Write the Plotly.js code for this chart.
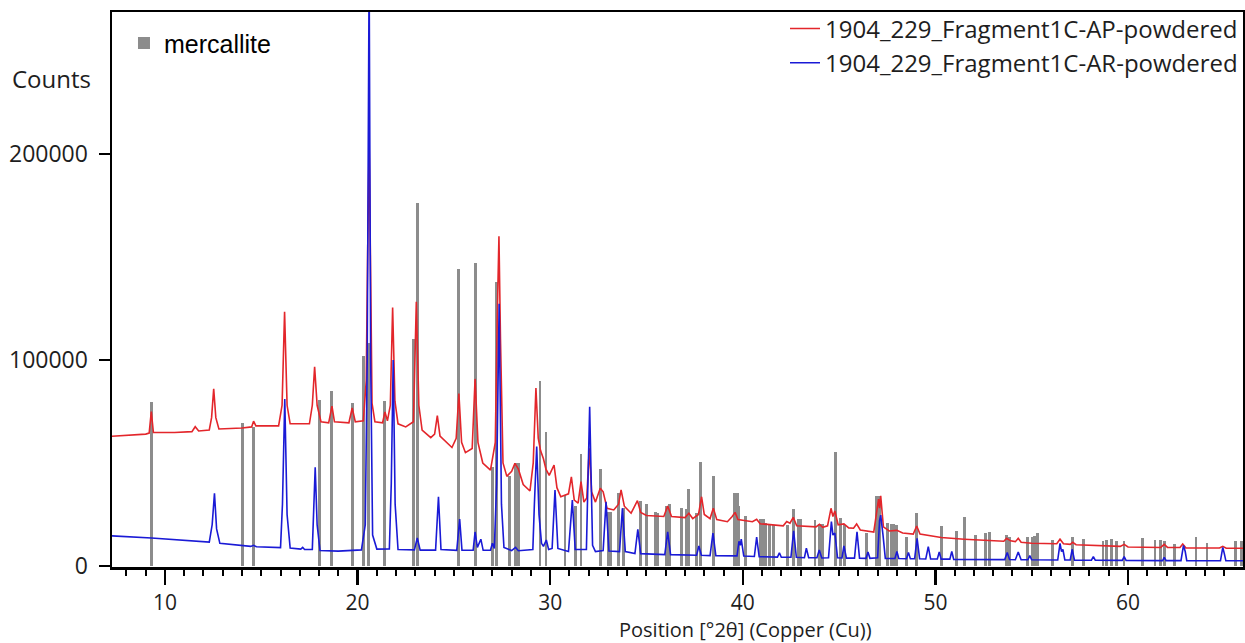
<!DOCTYPE html>
<html>
<head>
<meta charset="utf-8">
<script src="https://cdn.plot.ly/plotly-3.0.1.min.js"></script>
<style>html,body{margin:0;padding:0;background:#fff;}#chart{width:1245px;height:643px;}</style>
</head>
<body>
<div id="chart"></div>
<script>
// ---- Series 1: 1904_229_Fragment1C-AP-powdered (red) ----
const apTheta = [7.25,8.0,9.0,9.18,9.29,9.4,10.5,11.4,11.57,11.75,12.3,12.42,12.53,12.64,12.8,14.0,14.5,14.6,14.72,15.9,16.08,16.21,16.34,16.5,17.5,17.65,17.77,17.9,18.0,18.1,18.5,18.67,18.8,19.55,19.72,19.88,20.3,20.45,20.52,20.6,20.68,20.75,20.9,21.3,21.42,21.55,21.7,21.82,21.94,22.1,22.5,22.9,23.05,23.18,23.35,23.8,24.0,24.14,24.28,24.9,25.12,25.26,25.4,25.6,25.95,26.1,26.25,26.5,26.9,27.15,27.25,27.34,27.42,27.55,27.75,28.0,28.17,28.35,28.6,28.95,29.12,29.26,29.38,29.5,29.65,29.78,29.95,30.2,30.35,30.55,30.95,31.1,31.25,31.45,31.6,31.75,31.9,32.03,32.15,32.35,32.6,32.75,32.95,33.3,33.55,33.68,33.85,34.2,34.53,34.7,35.0,35.9,36.1,36.3,37.0,37.2,37.4,37.7,37.86,38.0,38.3,38.47,38.65,39.2,39.45,39.6,39.75,40.5,40.72,40.9,42.1,42.28,42.45,42.62,42.8,43.8,43.98,44.15,44.4,44.58,44.68,44.78,44.95,45.25,45.5,45.75,45.91,46.1,46.8,47.05,47.1,47.16,47.3,47.6,48.0,48.3,48.85,49.03,49.2,50.3,51.5,53.55,53.7,53.9,54.15,54.3,54.45,55.0,56.3,56.47,56.65,57.0,57.13,57.3,59.6,59.8,60.0,61.7,61.88,62.05,62.7,62.84,63.0,64.75,64.92,65.1,65.97];
const apCounts = [63000,63500,64000,64500,75000,64800,64800,65200,67600,65500,66000,72000,86000,72000,66500,67000,67500,70300,68000,68000,78000,123400,78000,69000,69000,78000,96700,78000,74000,70000,69500,77600,70000,69500,76700,70000,70500,90000,150000,205800,140000,79000,70000,69500,74800,70500,78000,125500,80000,69000,67500,70000,128200,78000,66000,62300,64000,73000,63000,57500,62000,83700,60000,55000,57000,90800,60000,50000,46500,60000,120000,160000,110000,50000,43500,46000,49800,47000,39500,36400,50000,86400,62000,56000,52000,47000,44000,49000,38000,33600,35000,43300,32000,30500,40900,31000,33000,57100,36000,31000,37700,36000,28000,27200,30000,36900,29000,25600,31700,26000,24500,24000,29100,24000,23500,25600,23000,25000,33600,25000,23000,28000,22500,21500,24000,26000,22500,21500,22700,20500,19500,21600,20800,23600,19500,19000,20200,18800,19500,28000,24000,26700,20000,20400,18500,18300,20400,17500,16500,32500,28000,34000,19000,17000,17300,16000,15500,19400,15500,13800,13000,12000,13400,12200,11800,13400,11500,11000,10800,13000,10800,10500,11500,10300,9500,10500,9200,9000,10500,9000,9000,10700,8800,8700,9500,8600,8600];

// ---- Series 2: 1904_229_Fragment1C-AR-powdered (blue) ----
const arTheta = [7.25,9.3,12.3,12.45,12.57,12.68,12.85,14.45,14.6,14.75,16.0,16.1,16.22,16.34,16.5,17.05,17.15,17.25,17.65,17.72,17.8,17.9,18.05,19.0,20.2,20.4,20.5,20.6,20.68,20.78,21.0,21.65,21.75,21.85,21.95,22.1,22.95,23.1,23.25,24.05,24.2,24.33,25.15,25.3,25.42,26.0,26.1,26.22,26.4,26.52,26.9,27.0,27.1,27.22,27.35,27.47,27.6,28.0,28.2,28.35,29.1,29.18,29.3,29.42,29.55,29.65,29.8,29.92,30.1,30.25,30.4,30.95,31.15,31.3,31.88,32.05,32.2,32.35,32.75,32.9,33.05,33.6,33.75,33.9,34.4,34.55,34.7,35.95,36.1,36.25,37.6,37.72,37.85,38.3,38.45,38.6,39.7,39.8,39.87,39.92,40.05,40.6,40.72,40.85,41.8,41.9,42.0,42.5,42.64,42.78,43.2,43.3,43.42,43.85,43.97,44.1,44.45,44.6,44.68,44.78,44.92,45.15,45.25,45.38,45.8,45.93,46.06,46.4,46.5,46.6,47.0,47.1,47.16,47.28,47.4,47.9,48.0,48.1,48.5,48.6,48.7,48.92,49.05,49.18,49.5,49.63,49.75,50.1,50.2,50.3,50.75,50.85,50.95,53.6,53.73,53.85,54.15,54.3,54.45,54.8,54.9,55.0,56.35,56.47,56.55,56.62,56.72,57.0,57.1,57.22,58.1,58.2,58.3,59.7,59.8,59.9,61.8,61.88,61.98,62.75,62.88,62.97,63.05,64.8,64.92,65.0,65.08,65.97];
const arCounts = [14600,13600,11600,20000,35300,18000,11000,9500,10000,9300,8900,30000,81000,25000,8700,8200,9000,8000,8000,25000,47900,20000,7500,7200,7800,20000,100000,290000,100000,15000,8200,8300,40000,100000,30000,8000,7800,13600,7700,7700,33600,8000,7600,22800,7700,7600,16500,9000,13000,7600,7600,11000,8500,40000,127300,30000,9000,7500,9000,7400,8000,30000,58000,25000,11000,9500,12600,8000,8500,36900,8500,7000,32000,8000,8000,77300,10000,7000,7500,31200,7300,7000,28000,7000,6000,17800,6000,5500,16600,5500,5200,9700,5200,5000,15900,5000,4900,12000,10000,13000,4800,4600,14000,4500,4300,6400,4200,4200,17100,4200,4000,8600,4000,4000,7800,3900,4000,21500,15000,16000,4000,3900,9700,3800,3800,16600,3800,3700,6800,3700,4000,22000,24700,15000,3700,3600,7000,3600,3500,6500,3500,3500,13400,3500,3400,9400,3400,3400,6800,3300,3300,7000,3200,3100,6500,3100,3000,6800,3000,3000,5000,3000,2900,11000,7000,8000,2900,2900,8100,2800,2800,4500,2800,2700,4500,2700,2600,4200,2600,2600,10000,7000,2600,2500,9000,6000,2500,2500];

// ---- Reference pattern: mercallite (grey sticks) ----
const mercTheta = [9.29,14.03,14.6,18.01,18.64,19.72,20.3,20.55,21.42,22.89,23.1,25.26,26.1,27.0,27.22,27.9,28.2,28.35,29.47,29.78,30.77,31.3,31.6,32.59,33.0,33.15,33.53,33.8,34.67,35.0,35.45,35.55,36.05,36.2,36.8,37.1,37.2,37.6,37.81,38.47,39.55,39.72,39.8,40.15,40.9,41.06,41.2,41.4,41.6,42.3,42.62,42.9,43.0,43.75,43.98,44.15,44.79,45.05,45.3,46.4,46.95,47.08,47.5,47.7,47.85,48.0,48.5,49.03,50.33,51.1,51.5,52.1,52.6,52.8,53.67,53.84,54.76,55.05,55.15,55.29,56.1,57.13,57.68,58.7,58.9,59.15,59.4,59.79,60.76,61.4,61.7,61.88,62.4,63.53,64.1,65.6,65.9];
const mercCounts = [79600,69300,67600,80600,85000,79300,102000,108000,80000,110000,176000,144000,147000,48000,138000,43700,49800,49800,90000,65000,34500,29000,54400,47000,26000,26000,35400,28000,31700,30000,26000,25600,29300,30000,28000,27500,37200,25600,50600,43700,35600,35600,29000,24500,22700,22700,21000,20000,20000,20000,27500,22700,22700,22300,20500,20300,55200,23300,20000,16000,34100,34100,21000,20500,20500,20000,14000,25600,19400,16800,23600,15200,15900,16600,15000,14200,14000,14000,14500,15900,12800,13900,13200,12200,12400,13200,12000,12200,13400,12800,12800,12300,10500,13900,11300,12000,12000];

const yTicks = [0,100000,200000];
const yTickText = ['0','100000','200000'];
const xTitle = 'Position [°2θ] (Copper (Cu))';
const yTitle = 'Counts';

const traces = [
  {type:'bar', name:'mercallite', x:mercTheta, y:mercCounts, width:0.15,
   marker:{color:'#8c8c8c', line:{width:0}}, legend:'legend2', hoverinfo:'x+y'},
  {type:'scatter', mode:'lines', name:'1904_229_Fragment1C-AP-powdered', x:apTheta, y:apCounts,
   line:{color:'#e3262b', width:1.6}, legend:'legend'},
  {type:'scatter', mode:'lines', name:'1904_229_Fragment1C-AR-powdered', x:arTheta, y:arCounts,
   line:{color:'#1a1ad6', width:1.6}, legend:'legend'}
];

const layout = {
  width:1245, height:643,
  margin:{l:112, r:2, t:12, b:76},
  paper_bgcolor:'#ffffff', plot_bgcolor:'#ffffff',
  font:{family:'Open Sans, sans-serif', color:'#1e1e1e'},
  showlegend:true,
  xaxis:{
    range:[7.25,65.97], tickmode:'linear', tick0:0, dtick:10, ticks:'outside', ticklen:15, tickwidth:2.5, tickcolor:'#000',
    minor:{dtick:1, ticks:'outside', ticklen:6, tickwidth:2, tickcolor:'#000'},
    showgrid:false, zeroline:false, showline:true, mirror:true, linecolor:'#000', linewidth:2.5,
    tickfont:{family:'Open Sans, sans-serif', size:21, color:'#1e1e1e'}
  },
  yaxis:{
    range:[-500,268900], tickmode:'array', tickvals:yTicks, ticktext:yTickText, ticks:'outside', ticklen:11, tickwidth:2.5, tickcolor:'#000',
    ticklabelstandoff:6,
    showgrid:false, zeroline:false, showline:true, mirror:true, linecolor:'#000', linewidth:2.5,
    tickfont:{family:'Open Sans, sans-serif', size:23, color:'#1e1e1e'}
  },
  bargap:0,
  legend:{x:1, xanchor:'right', y:1.01, yanchor:'top', bgcolor:'rgba(0,0,0,0)', borderwidth:0,
    font:{family:'Open Sans, sans-serif', size:24, color:'#1e1e1e'}, tracegroupgap:0},
  legend2:{x:0.0106, xanchor:'left', y:0.985, yanchor:'top', bgcolor:'rgba(0,0,0,0)', borderwidth:0,
    font:{family:'Liberation Sans, Arial, sans-serif', size:25, color:'#000'}},
  annotations:[
    {xref:'paper', yref:'paper', x:-0.0902, y:0.881, xanchor:'left', yanchor:'middle', showarrow:false,
     text:yTitle, font:{family:'Open Sans, sans-serif', size:24, color:'#1e1e1e'}},
    {xref:'paper', yref:'paper', x:0.56, y:-0.1135, xanchor:'center', yanchor:'middle', showarrow:false,
     text:xTitle, font:{family:'Open Sans, sans-serif', size:20, color:'#1e1e1e'}}
  ]
};

Plotly.newPlot('chart', traces, layout, {displayModeBar:false, staticPlot:true});
</script>
</body>
</html>
